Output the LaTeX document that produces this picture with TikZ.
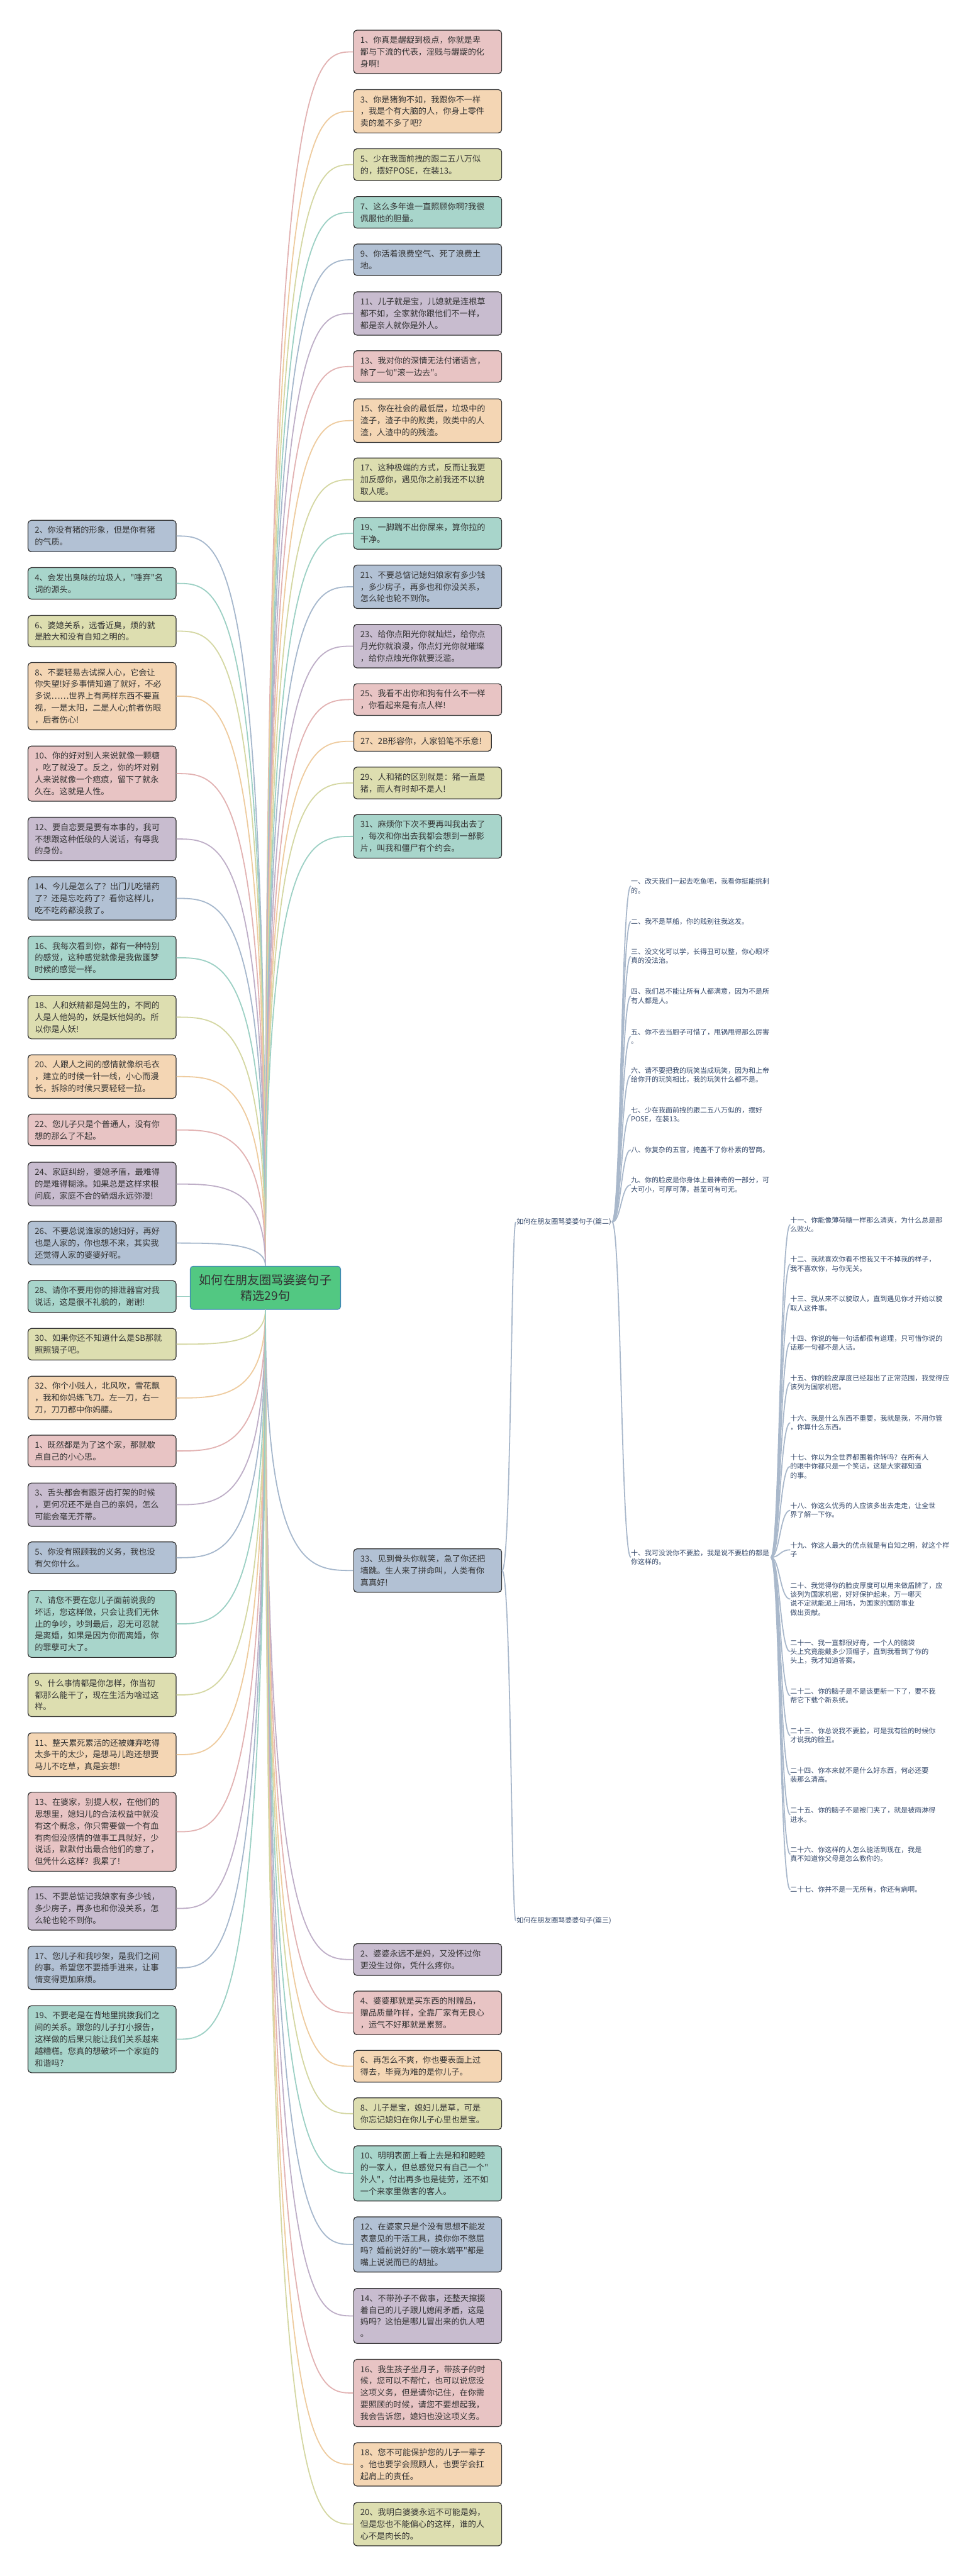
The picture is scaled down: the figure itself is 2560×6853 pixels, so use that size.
\documentclass[tikz,border=0pt]{standalone}
\usepackage{fontspec}
\setmainfont{Liberation Serif}
\newfontfamily\cjk{Noto Sans CJK SC}
\usetikzlibrary{calc}
\definecolor{pinkF}{HTML}{E8C4C4}
\definecolor{peachF}{HTML}{F4D6B4}
\definecolor{oliveF}{HTML}{DDDEB0}
\definecolor{tealF}{HTML}{A8D5CB}
\definecolor{blueF}{HTML}{B2C1D4}
\definecolor{purpleF}{HTML}{C8BCCF}
\definecolor{pinkL}{HTML}{E2B2B2}
\definecolor{peachL}{HTML}{EECB9E}
\definecolor{oliveL}{HTML}{D4D7A2}
\definecolor{tealL}{HTML}{9CD0C4}
\definecolor{blueL}{HTML}{A5B7CC}
\definecolor{purpleL}{HTML}{BEAEC7}
\definecolor{boxborder}{HTML}{2E2E2E}
\definecolor{textc}{HTML}{333333}
\definecolor{rootF}{HTML}{52C882}
\definecolor{rootB}{HTML}{3F86B8}
\definecolor{subline}{HTML}{A9B8CB}
\definecolor{subtext}{HTML}{34486A}
\newcommand\rootconn[3]{\draw[conn,#1] (#2) .. controls (#2 |- #3) and ($(#2 |- #3)!.5!(#3)$) .. (#3);}
\newcommand\subconn[2]{\draw[sconn] (#1) .. controls ($(#1)+(24,0)$) and ($(#1 |- #2)+(24,0)$) .. (#2);}
\begin{document}
\begin{tikzpicture}[x=1pt,y=-1pt,
  box/.style={draw=boxborder, line width=2pt, rounded corners=9pt, text width=358pt, inner xsep=18pt, inner ysep=16pt, align=left, font=\cjk\fontsize{22}{31.5}\selectfont, text=textc},
  rootbox/.style={draw=rootB, fill=rootF, line width=2pt, rounded corners=8pt, minimum width=400pt, minimum height=115pt, text width=380pt, align=center, font=\cjk\fontsize{32}{42}\selectfont, text=textc},
  conn/.style={line width=3pt},
  sconn/.style={draw=subline, line width=3pt},
  sub/.style={anchor=west, text width=372pt, inner sep=0pt, align=left, font=\cjk\fontsize{18.4}{24}\selectfont, text=subtext},
  subw/.style={sub, text width=415pt},
  lbl/.style={anchor=west, inner sep=2pt, font=\cjk\fontsize{18.4}{24}\selectfont, text=subtext}]
\useasboundingbox[fill=white] (0,0) rectangle (2560,6853);

% root
\node[rootbox] (root) at (706,3426) {如何在朋友圈骂婆婆句子\\精选29句};

% right column
\node[box,fill=pinkF] (r1) at (1137.5,138) {1、你真是龌龊到极点，你就是卑\\鄙与下流的代表，淫贱与龌龊的化\\身啊!};
\node[box,fill=peachF] (r3) at (1137.5,296) {3、你是猪狗不如，我跟你不一样\\，我是个有大脑的人，你身上零件\\卖的差不多了吧?};
\node[box,fill=oliveF] (r5) at (1137.5,438) {5、少在我面前拽的跟二五八万似\\的，摆好POSE，在装13。};
\node[box,fill=tealF] (r7) at (1137.5,565) {7、这么多年谁一直照顾你啊?我很\\佩服他的胆量。};
\node[box,fill=blueF] (r9) at (1137.5,691) {9、你活着浪费空气、死了浪费土\\地。};
\node[box,fill=purpleF] (r11) at (1137.5,834) {11、儿子就是宝，儿媳就是连根草\\都不如，全家就你跟他们不一样，\\都是亲人就你是外人。};
\node[box,fill=pinkF] (r13) at (1137.5,975) {13、我对你的深情无法付诸语言，\\除了一句"滚一边去"。};
\node[box,fill=peachF] (r15) at (1137.5,1119) {15、你在社会的最低层，垃圾中的\\渣子，渣子中的败类，败类中的人\\渣，人渣中的的残渣。};
\node[box,fill=oliveF] (r17) at (1137.5,1276) {17、这种极端的方式，反而让我更\\加反感你，遇见你之前我还不以貌\\取人呢。};
\node[box,fill=tealF] (r19) at (1137.5,1419) {19、一脚踹不出你屎来，算你拉的\\干净。};
\node[box,fill=blueF] (r21) at (1137.5,1561) {21、不要总惦记媳妇娘家有多少钱\\，多少房子，再多也和你没关系，\\怎么轮也轮不到你。};
\node[box,fill=purpleF] (r23) at (1137.5,1719) {23、给你点阳光你就灿烂，给你点\\月光你就浪漫，你点灯光你就璀璨\\，给你点烛光你就要泛滥。};
\node[box,fill=pinkF] (r25) at (1137.5,1861) {25、我看不出你和狗有什么不一样\\，你看起来是有点人样!};
\node[box,fill=peachF,text width=330pt] (r27) at (1124,1972) {27、2B形容你，人家铅笔不乐意!};
\node[box,fill=oliveF] (r29) at (1137.5,2083) {29、人和猪的区别就是：猪一直是\\猪，而人有时却不是人!};
\node[box,fill=tealF] (r31) at (1137.5,2225) {31、麻烦你下次不要再叫我出去了\\，每次和你出去我都会想到一部影\\片，叫我和僵尸有个约会。};
\node[box,fill=blueF] (r33) at (1137.5,4178) {33、见到骨头你就笑，急了你还把\\墙跳。生人来了拼命叫，人类有你\\真真好!};

% right lower column
\node[box,fill=purpleF] (rb2) at (1137.5,5213) {2、婆婆永远不是妈，又没怀过你\\更没生过你，凭什么疼你。};
\node[box,fill=pinkF] (rb4) at (1137.5,5355) {4、婆婆那就是买东西的附赠品，\\赠品质量咋样，全靠厂家有无良心\\，运气不好那就是累赘。};
\node[box,fill=peachF] (rb6) at (1137.5,5497) {6、再怎么不爽，你也要表面上过\\得去，毕竟为难的是你儿子。};
\node[box,fill=oliveF] (rb8) at (1137.5,5623) {8、儿子是宝，媳妇儿是草，可是\\你忘记媳妇在你儿子心里也是宝。};
\node[box,fill=tealF] (rb10) at (1137.5,5782) {10、明明表面上看上去是和和睦睦\\的一家人，但总感觉只有自己一个"\\外人"，付出再多也是徒劳，还不如\\一个来家里做客的客人。};
\node[box,fill=blueF] (rb12) at (1137.5,5971) {12、在婆家只是个没有思想不能发\\表意见的干活工具，换你你不憋屈\\吗？婚前说好的"一碗水端平"都是\\嘴上说说而已的胡扯。};
\node[box,fill=purpleF] (rb14) at (1137.5,6161) {14、不带孙子不做事，还整天撺掇\\着自己的儿子跟儿媳闹矛盾，这是\\妈吗？这怕是哪儿冒出来的仇人吧\\。};
\node[box,fill=pinkF] (rb16) at (1137.5,6366) {16、我生孩子坐月子，带孩子的时\\候，您可以不帮忙，也可以说您没\\这项义务，但是请你记住，在你需\\要照顾的时候，请您不要想起我，\\我会告诉您，媳妇也没这项义务。};
\node[box,fill=peachF] (rb18) at (1137.5,6556) {18、您不可能保护您的儿子一辈子\\。他也要学会照顾人，也要学会扛\\起肩上的责任。};
\node[box,fill=oliveF] (rb20) at (1137.5,6715) {20、我明白婆婆永远不可能是妈，\\但是您也不能偏心的这样，谁的人\\心不是肉长的。};

% left column
\node[box,fill=blueF] (l2) at (271.5,1426) {2、你没有猪的形象，但是你有猪\\的气质。};
\node[box,fill=tealF] (l4) at (271.5,1552) {4、会发出臭味的垃圾人，"唾弃"名\\词的源头。};
\node[box,fill=oliveF] (l6) at (271.5,1679) {6、婆媳关系，远香近臭，烦的就\\是脸大和没有自知之明的。};
\node[box,fill=peachF] (l8) at (271.5,1852) {8、不要轻易去试探人心，它会让\\你失望!好多事情知道了就好，不必\\多说……世界上有两样东西不要直\\视，一是太阳，二是人心;前者伤眼\\，后者伤心!};
\node[box,fill=pinkF] (l10) at (271.5,2058) {10、你的好对别人来说就像一颗糖\\，吃了就没了。反之，你的坏对别\\人来说就像一个疤痕，留下了就永\\久在。这就是人性。};
\node[box,fill=purpleF] (l12) at (271.5,2232) {12、要自恋要是要有本事的，我可\\不想跟这种低级的人说话，有辱我\\的身份。};
\node[box,fill=blueF] (l14) at (271.5,2390) {14、今儿是怎么了？出门儿吃错药\\了？还是忘吃药了？看你这样儿，\\吃不吃药都没救了。};
\node[box,fill=tealF] (l16) at (271.5,2548) {16、我每次看到你，都有一种特别\\的感觉，这种感觉就像是我做噩梦\\时候的感觉一样。};
\node[box,fill=oliveF] (l18) at (271.5,2706) {18、人和妖精都是妈生的，不同的\\人是人他妈的，妖是妖他妈的。所\\以你是人妖!};
\node[box,fill=peachF] (l20) at (271.5,2864) {20、人跟人之间的感情就像织毛衣\\，建立的时候一针一线，小心而漫\\长，拆除的时候只要轻轻一拉。};
\node[box,fill=pinkF] (l22) at (271.5,3006) {22、您儿子只是个普通人，没有你\\想的那么了不起。};
\node[box,fill=purpleF] (l24) at (271.5,3150) {24、家庭纠纷，婆媳矛盾，最难得\\的是难得糊涂。如果总是这样求根\\问底，家庭不合的硝烟永远弥漫!};
\node[box,fill=blueF] (l26) at (271.5,3307) {26、不要总说谁家的媳妇好，再好\\也是人家的，你也想不来，其实我\\还觉得人家的婆婆好呢。};
\node[box,fill=tealF] (l28) at (271.5,3449) {28、请你不要用你的排泄器官对我\\说话，这是很不礼貌的，谢谢!};
\node[box,fill=oliveF] (l30) at (271.5,3576) {30、如果你还不知道什么是SB那就\\照照镜子吧。};
\node[box,fill=peachF] (l32) at (271.5,3719) {32、你个小贱人，北风吹，雪花飘\\，我和你妈练飞刀。左一刀，右一\\刀，刀刀都中你妈腰。};
\node[box,fill=pinkF] (lb1) at (271.5,3860) {1、既然都是为了这个家，那就歇\\点自己的小心思。};
\node[box,fill=purpleF] (lb3) at (271.5,4003) {3、舌头都会有跟牙齿打架的时候\\，更何况还不是自己的亲妈，怎么\\可能会毫无芥蒂。};
\node[box,fill=blueF] (lb5) at (271.5,4144) {5、你没有照顾我的义务，我也没\\有欠你什么。};
\node[box,fill=tealF] (lb7) at (271.5,4320) {7、请您不要在您儿子面前说我的\\坏话，您这样做，只会让我们无休\\止的争吵，吵到最后，忍无可忍就\\是离婚，如果是因为你而离婚，你\\的罪孽可大了。};
\node[box,fill=oliveF] (lb9) at (271.5,4509) {9、什么事情都是你怎样，你当初\\都那么能干了，现在生活为啥过这\\样。};
\node[box,fill=peachF] (lb11) at (271.5,4668) {11、整天累死累活的还被嫌弃吃得\\太多干的太少，是想马儿跑还想要\\马儿不吃草，真是妄想!};
\node[box,fill=pinkF] (lb13) at (271.5,4873) {13、在婆家，别提人权，在他们的\\思想里，媳妇儿的合法权益中就没\\有这个概念，你只需要做一个有血\\有肉但没感情的做事工具就好，少\\说话，默默付出最合他们的意了，\\但凭什么这样？我累了!};
\node[box,fill=purpleF] (lb15) at (271.5,5077) {15、不要总惦记我娘家有多少钱，\\多少房子，再多也和你没关系，怎\\么轮也轮不到你。};
\node[box,fill=blueF] (lb17) at (271.5,5235) {17、您儿子和我吵架，是我们之间\\的事。希望您不要插手进来，让事\\情变得更加麻烦。};
\node[box,fill=tealF] (lb19) at (271.5,5425) {19、不要老是在背地里挑拨我们之\\间的关系。跟您的儿子打小报告，\\这样做的后果只能让我们关系越来\\越糟糕。您真的想破坏一个家庭的\\和谐吗？};

% root connectors, right side
\rootconn{pinkL}{root.north}{r1.west}
\rootconn{peachL}{root.north}{r3.west}
\rootconn{oliveL}{root.north}{r5.west}
\rootconn{tealL}{root.north}{r7.west}
\rootconn{blueL}{root.north}{r9.west}
\rootconn{purpleL}{root.north}{r11.west}
\rootconn{pinkL}{root.north}{r13.west}
\rootconn{peachL}{root.north}{r15.west}
\rootconn{oliveL}{root.north}{r17.west}
\rootconn{tealL}{root.north}{r19.west}
\rootconn{blueL}{root.north}{r21.west}
\rootconn{purpleL}{root.north}{r23.west}
\rootconn{pinkL}{root.north}{r25.west}
\rootconn{peachL}{root.north}{r27.west}
\rootconn{oliveL}{root.north}{r29.west}
\rootconn{tealL}{root.north}{r31.west}
\rootconn{blueL}{root.south}{r33.west}
\rootconn{purpleL}{root.south}{rb2.west}
\rootconn{pinkL}{root.south}{rb4.west}
\rootconn{peachL}{root.south}{rb6.west}
\rootconn{oliveL}{root.south}{rb8.west}
\rootconn{tealL}{root.south}{rb10.west}
\rootconn{blueL}{root.south}{rb12.west}
\rootconn{purpleL}{root.south}{rb14.west}
\rootconn{pinkL}{root.south}{rb16.west}
\rootconn{peachL}{root.south}{rb18.west}
\rootconn{oliveL}{root.south}{rb20.west}
% left side
\rootconn{blueL}{root.north}{l2.east}
\rootconn{tealL}{root.north}{l4.east}
\rootconn{oliveL}{root.north}{l6.east}
\rootconn{peachL}{root.north}{l8.east}
\rootconn{pinkL}{root.north}{l10.east}
\rootconn{purpleL}{root.north}{l12.east}
\rootconn{blueL}{root.north}{l14.east}
\rootconn{tealL}{root.north}{l16.east}
\rootconn{oliveL}{root.north}{l18.east}
\rootconn{peachL}{root.north}{l20.east}
\rootconn{pinkL}{root.north}{l22.east}
\rootconn{purpleL}{root.north}{l24.east}
\rootconn{blueL}{root.north}{l26.east}
\draw[conn,tealL] (root.west |- l28.east) -- (l28.east);
\rootconn{oliveL}{root.south}{l30.east}
\rootconn{peachL}{root.south}{l32.east}
\rootconn{pinkL}{root.south}{lb1.east}
\rootconn{purpleL}{root.south}{lb3.east}
\rootconn{blueL}{root.south}{lb5.east}
\rootconn{tealL}{root.south}{lb7.east}
\rootconn{oliveL}{root.south}{lb9.east}
\rootconn{peachL}{root.south}{lb11.east}
\rootconn{pinkL}{root.south}{lb13.east}
\rootconn{purpleL}{root.south}{lb15.east}
\rootconn{blueL}{root.south}{lb17.east}
\rootconn{tealL}{root.south}{lb19.east}

% sub branches
\node[lbl] (p2) at (1372,3251) {如何在朋友圈骂婆婆句子(篇二)};
\node[lbl] (p3) at (1372,5110) {如何在朋友圈骂婆婆句子(篇三)};
\subconn{r33.east}{p2.west}
\subconn{r33.east}{p3.west}

\node[sub] (c1) at (1678,2357) {一、改天我们一起去吃鱼吧，我看你挺能挑刺\\的。};
\node[sub] (c2) at (1678,2451) {二、我不是草船，你的贱别往我这发。};
\node[sub] (c3) at (1678,2544) {三、没文化可以学，长得丑可以整，你心眼坏\\真的没法治。};
\node[sub] (c4) at (1678,2650) {四、我们总不能让所有人都满意，因为不是所\\有人都是人。};
\node[sub] (c5) at (1678,2757) {五、你不去当厨子可惜了，甩锅甩得那么厉害\\。};
\node[sub] (c6) at (1678,2860) {六、请不要把我的玩笑当成玩笑，因为和上帝\\给你开的玩笑相比，我的玩笑什么都不是。};
\node[sub] (c7) at (1678,2965) {七、少在我面前拽的跟二五八万似的，摆好\\POSE，在装13。};
\node[sub] (c8) at (1678,3059) {八、你复杂的五官，掩盖不了你朴素的智商。};
\node[sub] (c9) at (1678,3152) {九、你的脸皮是你身体上最神奇的一部分，可\\大可小，可厚可薄，甚至可有可无。};
\node[sub] (c10) at (1678,4143) {十、我可没说你不要脸，我是说不要脸的都是\\你这样的。};
\foreach \c in {c1,c2,c3,c4,c5,c6,c7,c8,c9,c10} {\subconn{p2.east}{\c.west}}

\node[subw] (d11) at (2102,3258) {十一、你能像薄荷糖一样那么清爽，为什么总是那\\么败火。};
\node[subw] (d12) at (2102,3363) {十二、我就喜欢你看不惯我又干不掉我的样子，\\我不喜欢你，与你无关。};
\node[subw] (d13) at (2102,3468) {十三、我从来不以貌取人，直到遇见你才开始以貌\\取人这件事。};
\node[subw] (d14) at (2102,3572) {十四、你说的每一句话都很有道理，只可惜你说的\\话那一句都不是人话。};
\node[subw] (d15) at (2102,3678) {十五、你的脸皮厚度已经超出了正常范围，我觉得应\\该列为国家机密。};
\node[subw] (d16) at (2102,3785) {十六、我是什么东西不重要，我就是我，不用你管\\，你算什么东西。};
\node[subw] (d17) at (2102,3901) {十七、你以为全世界都围着你转吗？在所有人\\的眼中你都只是一个笑话，这是大家都知道\\的事。};
\node[subw] (d18) at (2102,4018) {十八、你这么优秀的人应该多出去走走，让全世\\界了解一下你。};
\node[subw] (d19) at (2102,4123) {十九、你这人最大的优点就是有自知之明，就这个样\\子};
\node[subw] (d20) at (2102,4254) {二十、我觉得你的脸皮厚度可以用来做盾牌了，应\\该列为国家机密，好好保护起来，万一哪天\\说不定就能派上用场，为国家的国防事业\\做出贡献。};
\node[subw] (d21) at (2102,4394) {二十一、我一直都很好奇，一个人的脑袋\\头上究竟能戴多少顶帽子，直到我看到了你的\\头上，我才知道答案。};
\node[subw] (d22) at (2102,4511) {二十二、你的脑子是不是该更新一下了，要不我\\帮它下载个新系统。};
\node[subw] (d23) at (2102,4617) {二十三、你总说我不要脸，可是我有脸的时候你\\才说我的脸丑。};
\node[subw] (d24) at (2102,4722) {二十四、你本来就不是什么好东西，何必还要\\装那么清高。};
\node[subw] (d25) at (2102,4828) {二十五、你的脑子不是被门夹了，就是被雨淋得\\进水。};
\node[subw] (d26) at (2102,4933) {二十六、你这样的人怎么能活到现在，我是\\真不知道你父母是怎么教你的。};
\node[subw] (d27) at (2102,5027) {二十七、你并不是一无所有，你还有病啊。};
\foreach \d in {d11,d12,d13,d14,d15,d16,d17,d18,d19,d20,d21,d22,d23,d24,d25,d26,d27} {\subconn{c10.east}{\d.west}}
\end{tikzpicture}
\end{document}
